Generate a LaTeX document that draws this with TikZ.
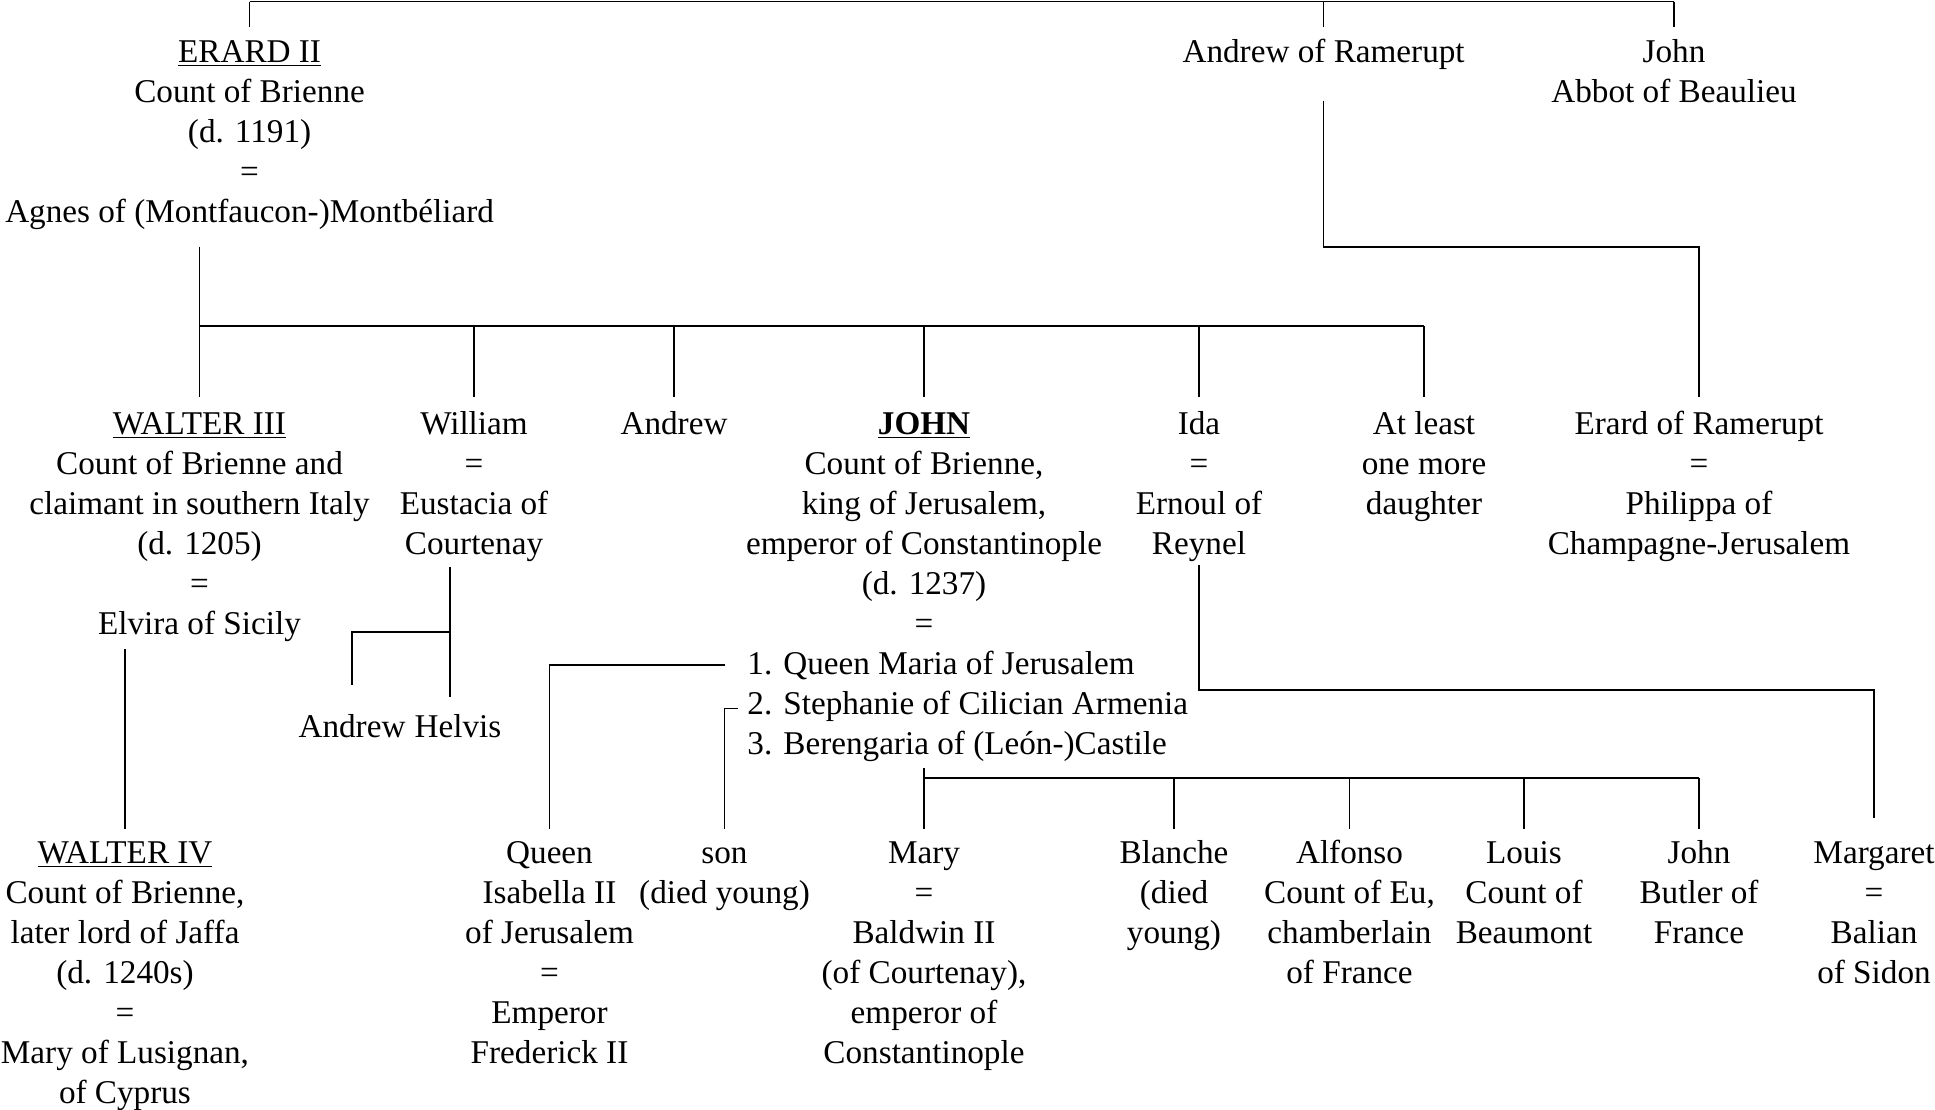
\documentclass[tikz,border=0pt]{standalone}
\usepackage{fontspec}
\setmainfont{Liberation Serif}
\usepackage{tikz}
\usetikzlibrary{positioning}
\usetikzlibrary{calc}

\newcommand{\famsize}{\fontsize{16.6bp}{20bp}\selectfont}
\tikzset{
  person/.style={align=center, anchor=base, inner sep=0pt, font=\famsize},
  link/.style={line width=0.8bp}
}

\begin{document}
\begin{tikzpicture}[x=0.5bp,y=-0.5bp]
\useasboundingbox (0,0) rectangle (1935,1109);

% nodes sit on the baseline of their last line
% first generation
\node[person] (erard) at (249.6,222.5) {\underline{ERARD II}\\Count of Brienne\\(d. 1191)\\=\\Agnes of (Montfaucon-)Montbéliard};
\node[person] (andrew0) at (1323.6,62.5) {Andrew of Ramerupt};
\node[person] (john0) at (1674,102.5) {John\\Abbot of Beaulieu};

% children of Erard
\node[person] (walter3) at (199.5,634) {\underline{WALTER III}\\Count of Brienne and\\claimant in southern Italy\\(d. 1205)\\=\\Elvira of Sicily};
\node[person] (william) at (474,554) {William\\=\\Eustacia of\\Courtenay};
\node[person] (andrew1) at (674,434) {Andrew};
\node[person] (john1) at (924,634) {\textbf{\underline{JOHN}}\\Count of Brienne,\\king of Jerusalem,\\emperor of Constantinople\\(d. 1237)\\=};
\node[person] (ida) at (1199,554) {Ida\\=\\Ernoul of\\Reynel};
\node[person] (daughter) at (1424,514) {At least\\one more\\daughter};
\node[person] (erard1) at (1699,554) {Erard of Ramerupt\\=\\Philippa of\\Champagne-Jerusalem};
\node[person, align=left, anchor=base west] (wives) at ($(john1.base)+(-177,120)$) {1. Queen Maria of Jerusalem\\2. Stephanie of Cilician Armenia\\3. Berengaria of (León-)Castile};

\node[person] (helvis0) at (352,737) {Andrew};
\node[person, base right=4.15bp of helvis0] (helvis1) {Helvis};

% grandchildren
\node[person] (walter4) at (125,1103) {\underline{WALTER IV}\\Count of Brienne,\\later lord of Jaffa\\(d. 1240s)\\=\\Mary of Lusignan,\\of Cyprus};
\node[person] (isabella) at (549.5,1063) {Queen\\Isabella II\\of Jerusalem\\=\\Emperor\\Frederick II};
\node[person] (son) at (724.5,903) {son\\(died young)};
\node[person] (mary) at (924,1063) {Mary\\=\\Baldwin II\\(of Courtenay),\\emperor of\\Constantinople};
\node[person] (blanche) at (1174,943) {Blanche\\(died\\young)};
\node[person] (alfonso) at (1349.5,983) {Alfonso\\Count of Eu,\\chamberlain\\of France};
\node[person] (louis) at (1524,943) {Louis\\Count of\\Beaumont};
\node[person] (john2) at (1699,943) {John\\Butler of\\France};
\node[person] (margaret) at (1874,983) {Margaret\\=\\Balian\\of Sidon};

\coordinate (top) at (0,1.5);
\coordinate (drop0) at (0,26.7);
\coordinate (mid0) at (0,246.7);
\coordinate (bar1) at (0,326);
\coordinate (drop1) at (0,397);
\coordinate (helv) at (0,631.7);
\coordinate (drop2) at (0,685);
\coordinate (bar2) at (0,778);
\coordinate (drop3) at (0,829);

\draw[link] (erard |- top) -- (john0 |- top);
\foreach \n in {erard,andrew0,john0}
  \draw[link] (\n |- top) -- (\n |- drop0);

\draw[link] (walter3 |- mid0) -- (walter3 |- bar1) -- (daughter |- bar1);
\foreach \n in {walter3,william,andrew1,john1,ida,daughter}
  \draw[link] (\n |- bar1) -- (\n |- drop1);
\draw[link] (andrew0.base) ++(0,38) |- (erard1 |- mid0) -- (erard1 |- drop1);

\draw[link] (helvis1 |- william.base) ++(-8,12.7) -- ++(0,130);
\draw[link] ($(helvis1 |- helv)+(-8,0)$) -| (helvis0 |- drop2);
\draw[link] (walter4 |- walter3.base) ++(0,15) -- (walter4 |- drop3);

\draw[link] (wives.base west) ++(-22.5,-89) -| (isabella |- drop3);
\draw[link] (wives.base west) ++(-9,-45.7) -| (son |- drop3);
\draw[link] (mary |- bar2) ++(0,-10) -- (mary |- bar2) -- (john2 |- bar2);
\foreach \n in {mary,blanche,alfonso,louis,john2}
  \draw[link] (\n |- bar2) -- (\n |- drop3);
%\draw[link] (ida) -- (margaret);
\draw[link] (ida.base) ++(0,11) |- ($(margaret |- bar2)+(0,-88)$) -- ($(margaret |- drop3)+(0,-11)$);
\end{tikzpicture}
\end{document}
